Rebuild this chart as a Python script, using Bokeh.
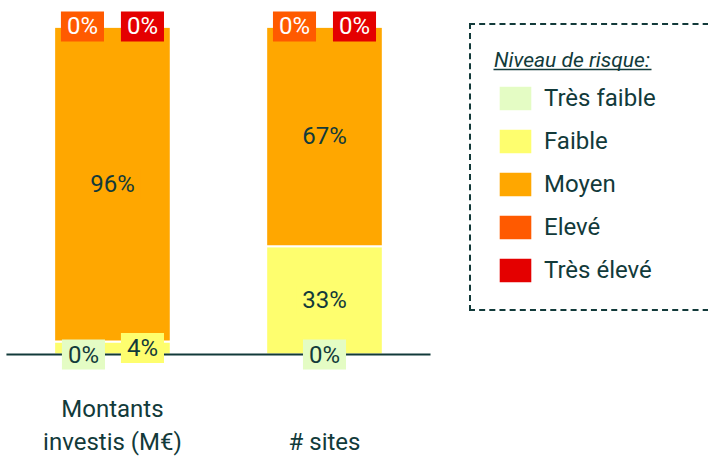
from bokeh.plotting import figure
from bokeh.models import ColumnDataSource, Range1d
from bokeh.core.properties import value
from bokeh.embed import file_html
from bokeh.resources import INLINE

# ---- data ----
categories = ["Montants investis (M€)", "# sites"]
category_labels = ["Montants\ninvestis (M€)", "# sites"]
levels = ["Très faible", "Faible", "Moyen", "Elevé", "Très élevé"]
tres_faible = [0, 0]
faible = [4, 33]
moyen = [96, 67]
eleve = [0, 0]
tres_eleve = [0, 0]

# ---- styles ----
colors = ["#e4fcc4", "#fefe6e", "#ffa700", "#ff5a00", "#e40000"]
text_colors = ["#123a3a", "#123a3a", "#123a3a", "#ffffff", "#ffffff"]
DARK = "#123a3a"
FONT = "Roboto"
W, H = 708, 461
X0, X1 = -0.528, 2.811
Y0, Y1 = -32.6, 107.9
# label nudges (screen px) to avoid overlaps of small-segment labels
label_dx = {
    (categories[0], "Très faible"): -29,
    (categories[0], "Faible"): 30,
    (categories[0], "Elevé"): -30,
    (categories[0], "Très élevé"): 30,
    (categories[1], "Elevé"): -30,
    (categories[1], "Très élevé"): 30,
}

series = [tres_faible, faible, moyen, eleve, tres_eleve]
pos = list(range(len(categories)))          # category slots on the x scale
keys = ["l%d" % i for i in range(len(levels))]
bar_data = {"cat": categories, "pos": pos}
for k, s in zip(keys, series):
    bar_data[k] = s
bar_src = ColumnDataSource(bar_data)

p = figure(
    width=W, height=H,
    x_range=Range1d(X0, X1),
    y_range=Range1d(Y0, Y1),
    output_backend="svg", toolbar_location=None,
    x_axis_location=None, y_axis_location=None,
    min_border_left=0, min_border_right=0,
    min_border_top=0, min_border_bottom=0,
)
p.grid.visible = False
p.outline_line_color = None
p.background_fill_color = "white"
p.border_fill_color = "white"

p.vbar_stack(keys, x="pos", width=0.55, color=colors, source=bar_src,
             line_color="white", line_width=2, legend_label=levels)

# baseline across the category bands
p.segment(x0=[pos[0] - 0.5], x1=[pos[-1] + 0.5], y0=[0], y1=[0],
          line_color=DARK, line_width=2)

# segment labels
lx, ly, lt, lbg, ltc, ldx = [], [], [], [], [], []
for ci, cat in enumerate(categories):
    bottom = 0
    for li, lvl in enumerate(levels):
        v = series[li][ci]
        lx.append(pos[ci])
        ly.append(bottom + v / 2)
        lt.append("%d%%" % v)
        lbg.append(colors[li])
        ltc.append(text_colors[li])
        ldx.append(label_dx.get((cat, lvl), 0))
        bottom += v
lab_src = ColumnDataSource(dict(x=lx, y=ly, text=lt, bg=lbg, tc=ltc, dx=ldx))
p.text(x="x", y="y", text="text", source=lab_src, x_offset="dx",
       text_font=value(FONT), text_font_size="24px", text_color="tc",
       text_align="center", text_baseline="middle",
       background_fill_color="bg", padding=(6, 1))

# category labels
p.text(x=pos, y=[-31.0, -31.0], text=category_labels,
       text_font=value(FONT), text_font_size="24px", text_color=DARK,
       text_align="center", text_baseline="bottom", text_line_height=1.2)

leg = p.legend[0]
leg.location = (469, 150)
leg.title = "Niveau de risque:"
leg.title_text_font = FONT
leg.title_text_font_style = "italic"
leg.title_text_font_size = "21px"
leg.title_text_color = DARK
leg.title_standoff = 10
leg.label_text_font = FONT
leg.label_text_font_size = "24px"
leg.label_text_color = DARK
leg.label_standoff = 8
leg.label_width = 160
leg.label_height = 32
leg.glyph_width = 42
leg.glyph_height = 32
leg.spacing = 11
leg.padding = 23
leg.margin = 0
leg.border_line_color = DARK
leg.border_line_alpha = 1.0
leg.border_line_width = 2
leg.border_line_dash = "8 5"
leg.background_fill_alpha = 0

# underline of the legend title (decoration, placed in screen pixels)
def sx(px):
    return X0 + px * (X1 - X0) / W

def sy(py):
    return Y1 - py * (Y1 - Y0) / H

p.segment(x0=[sx(493)], x1=[sx(651)], y0=[sy(69)], y1=[sy(69)],
          line_color=DARK, line_width=1.5)

open("out.html", "w").write(file_html(p, INLINE))
